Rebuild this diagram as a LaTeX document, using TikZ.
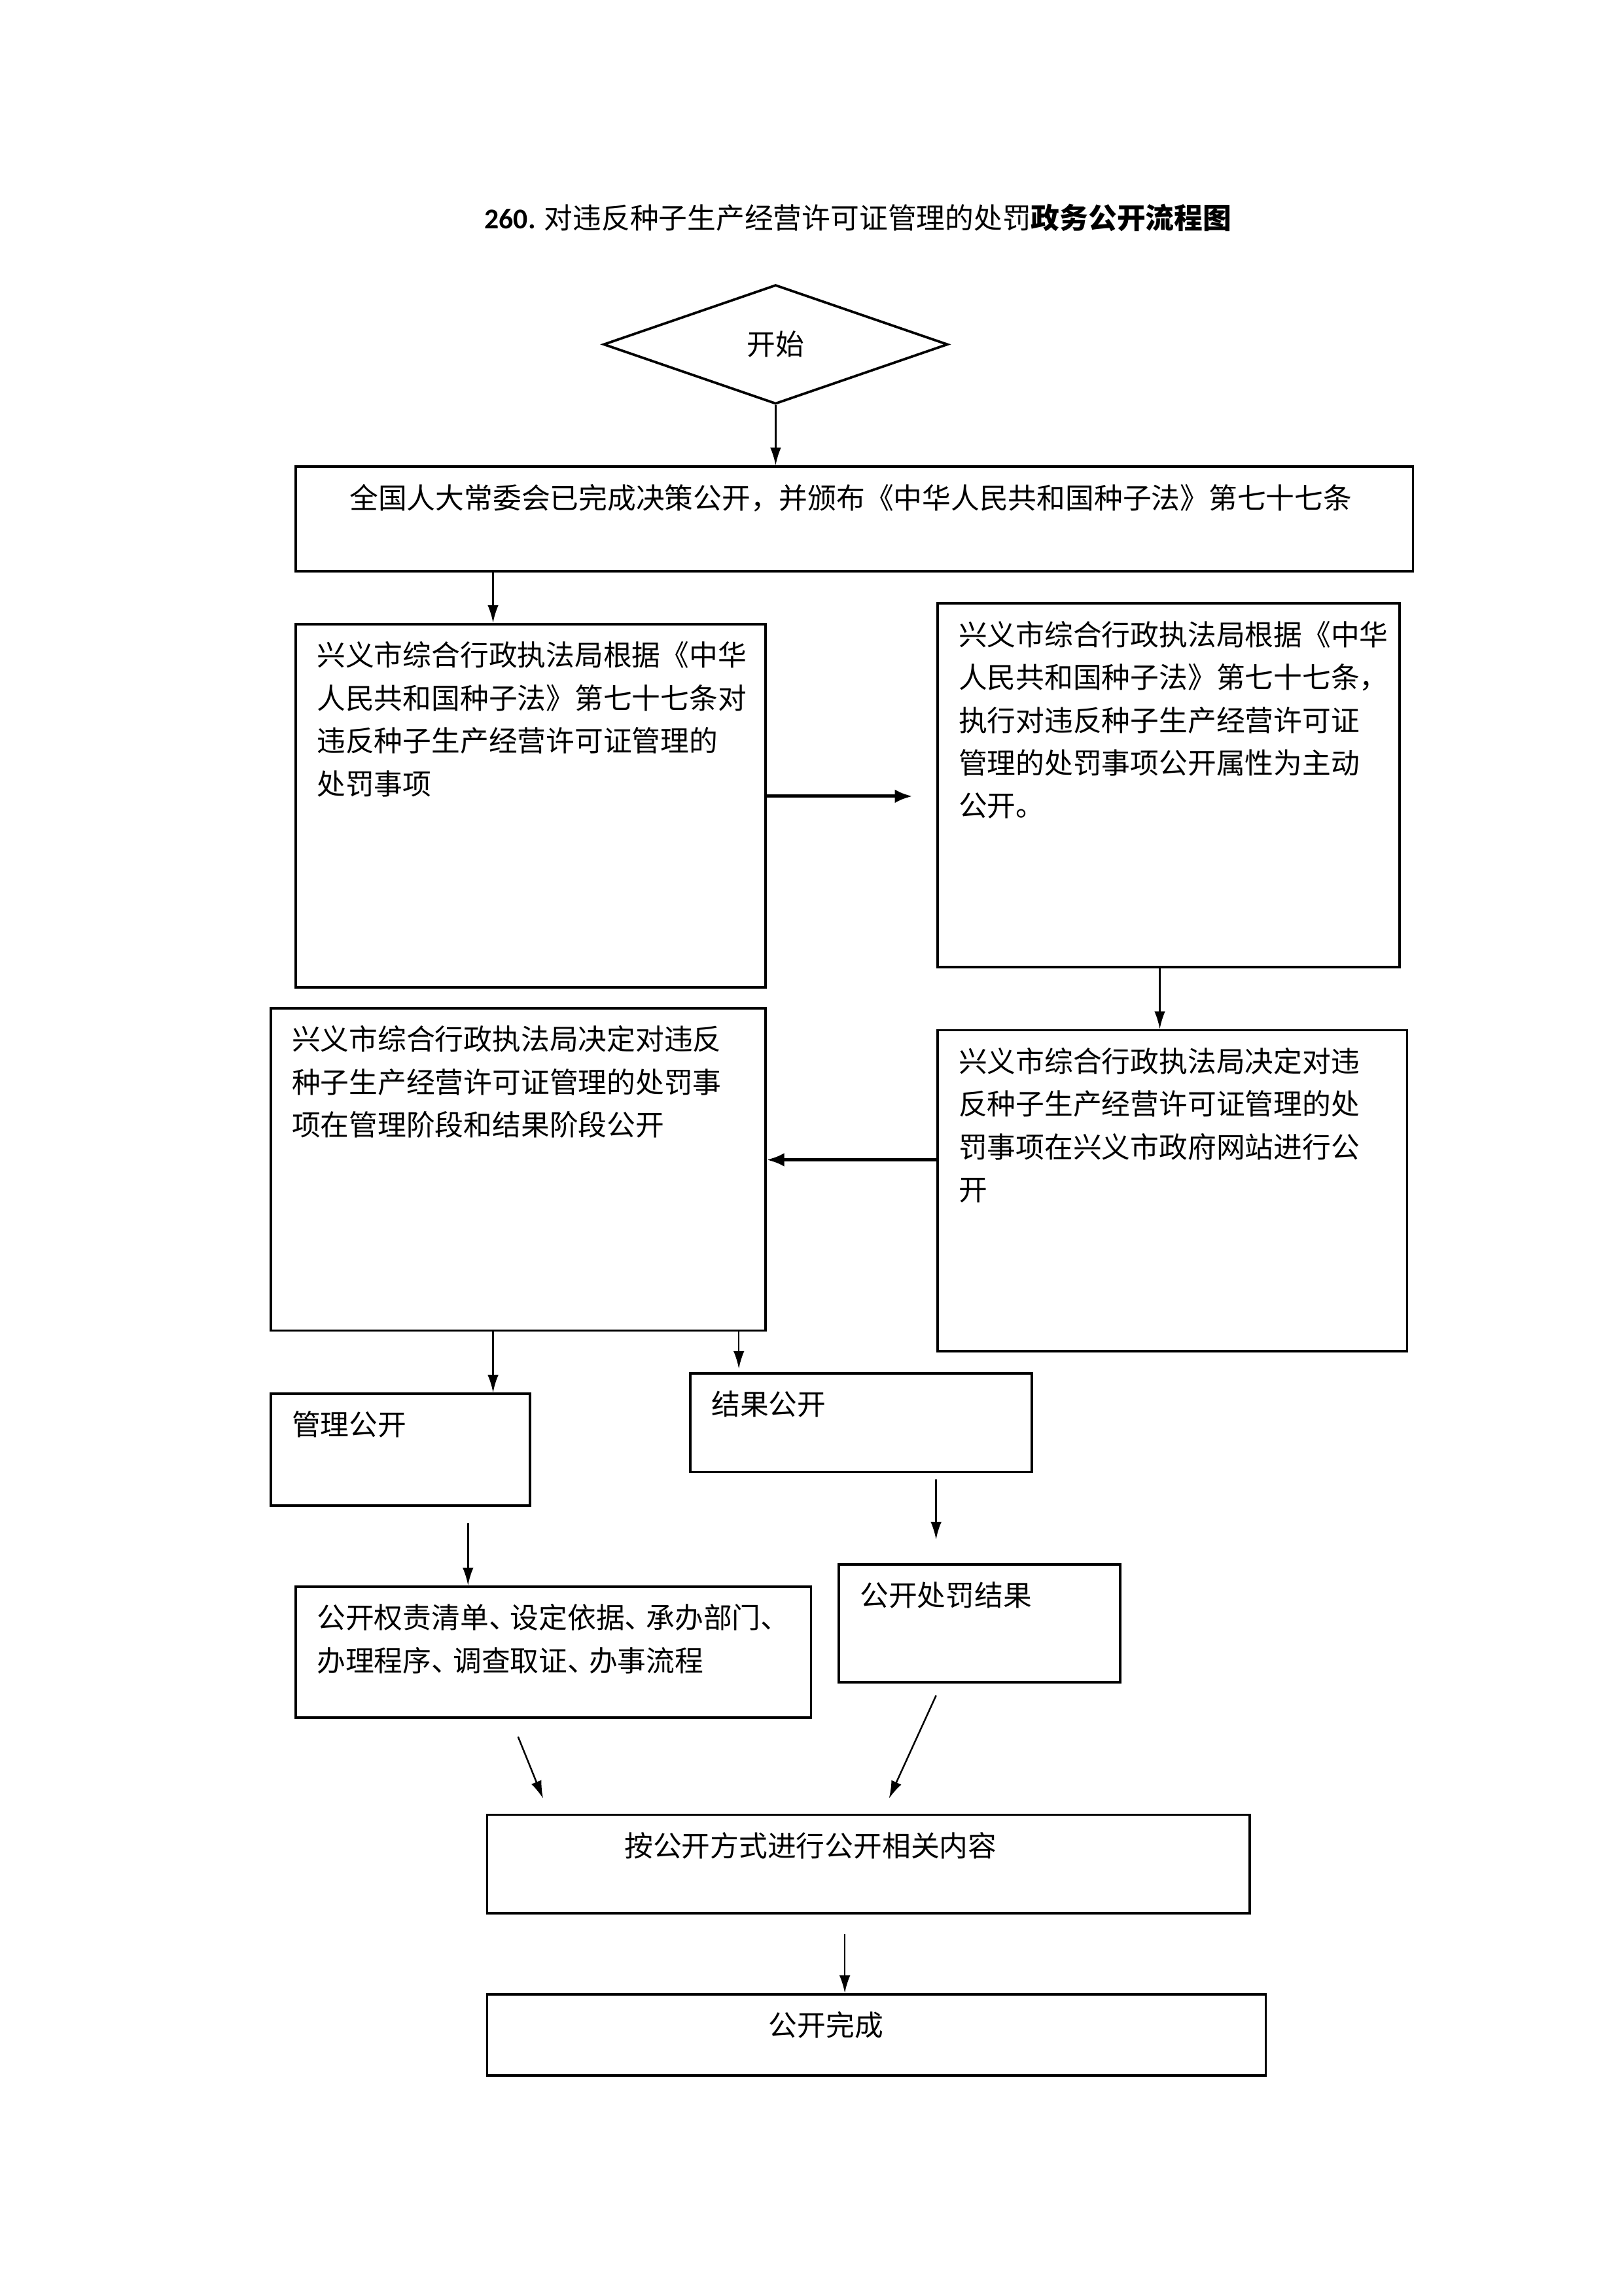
\documentclass[tikz,border=0pt]{standalone}
\usepackage{fontspec}
\setmainfont{Noto Sans CJK SC}
\newfontfamily\numfont{Carlito}
\usetikzlibrary{arrows.meta, fit, positioning, shapes.geometric}
\tikzset{
    box/.style={
        draw, line width=0.9pt,
        inner sep=0pt
    },
    txt/.style={
        anchor=north west, align=left,
        inner xsep=8pt, inner ysep=6.7pt,
        font=\fontsize{10.5pt}{15.7pt}\selectfont
    },
    start/.style={
        diamond, draw, line width=0.9pt,
        inner sep=0pt,
        minimum width=126.3pt, minimum height=43.7pt,
        font=\fontsize{10.5pt}{15.7pt}\selectfont
    },
    conn/.style={
        line width=0.6pt,
        -{Latex[length=6.5pt, width=4pt]},
    },
    connb/.style={
        line width=1.2pt,
        -{Latex[length=6.5pt, width=5pt]},
    },
}

\begin{document}
\begin{tikzpicture}[x=0.5397pt, y=-0.5397pt]
        \useasboundingbox (0,0) rectangle (1103,1560);

        \node[font=\fontsize{10.5pt}{12pt}\selectfont] (title) at (583,148)
            {{\numfont\bfseries 260.} 对违反种子生产经营许可证管理的处罚\textbf{政务公开流程图}};

        \node[start] (d) at (527,234) {开始};

        \node[box, fit={(201,317) (960,388)},
            label={[txt, xshift=12pt]north west:{全国人大常委会已完成决策公开，并颁布《中华人民共和国种子法》第七十七条}}] (b1) {};
        \node[box, fit={(201,424) (520,671)},
            label={[txt]north west:{兴义市综合行政执法局根据《中华\\人民共和国种子法》第七十七条对\\违反种子生产经营许可证管理的\\处罚事项}}] (b2) {};
        \node[box, fit={(637,410) (951,657)},
            label={[txt]north west:{兴义市综合行政执法局根据《中华\\人民共和国种子法》第七十七条，\\执行对违反种子生产经营许可证\\管理的处罚事项公开属性为主动\\公开。}}] (b3) {};
        \node[box, fit={(184,685) (520,904)},
            label={[txt]north west:{兴义市综合行政执法局决定对违反\\种子生产经营许可证管理的处罚事\\项在管理阶段和结果阶段公开}}] (b4) {};
        \node[box, fit={(637,700) (956,918)},
            label={[txt]north west:{兴义市综合行政执法局决定对违\\反种子生产经营许可证管理的处\\罚事项在兴义市政府网站进行公\\开}}] (b5) {};
        \node[box, fit={(184,947) (360,1023)},
            label={[txt]north west:{管理公开}}] (b6) {};
        \node[box, fit={(469,933) (701,1000)},
            label={[txt]north west:{结果公开}}] (b7) {};
        \node[box, fit={(201,1078) (551,1167)},
            label={[txt]north west:{公开权责清单、\kern-.25em 设定依据、\kern-.25em 承办部门、\\办理程序、\kern-.25em 调查取证、\kern-.25em 办事流程}}] (b8) {};
        \node[box, fit={(570,1063) (761,1143)},
            label={[txt]north west:{公开处罚结果}}] (b9) {};
        \node[box, fit={(331,1233) (849,1300)},
            label={[txt, xshift=42.6pt]north west:{按公开方式进行公开相关内容}}] (b10) {};
        \node[box, fit={(331,1355) (860,1410)},
            label={[txt, xshift=95.5pt]north west:{公开完成}}] (b11) {};

        % arrow positions
        \coordinate (c2) at (335,0);
        \coordinate (c3) at (620,541);
        \coordinate (c4) at (788,0);
        \coordinate (c5) at (0,788);
        \coordinate (c7) at (502,930);
        \coordinate (c8) at (318,1035);
        \coordinate (c9) at (636,1005);
        \coordinate (c9e) at (636,1046);
        \coordinate (c10) at (352,1180);
        \coordinate (c10e) at (369,1222);
        \coordinate (c11) at (636,1152);
        \coordinate (c11e) at (604,1222);
        \coordinate (c12) at (574,1314);

        \foreach \i/\j in {d.south/d.south |- b1.north, b1.south -| c2/b2.north -| c2,
                        b3.south -| c4/b5.north -| c4, b4.south -| c2/b6.north -| c2,
                        b4.south -| c7/c7, c8/c8 |- b8.north, c9/c9e,
                        c10/c10e, c11/c11e, c12/c12 |- b11.north}
                            \draw[conn] (\i)--(\j);

        \draw[connb] (b2.east |- c3)--(c3);
        \draw[connb] (b5.west |- c5)--(b4.east |- c5);
\end{tikzpicture}
\end{document}
